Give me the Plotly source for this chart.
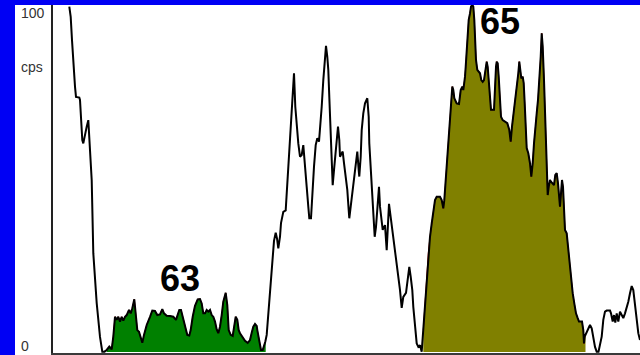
import numpy as np
import plotly.graph_objects as go

# Spectrum: counts per second against channel number
channel = [
    16.3, 17.7, 19.0, 20.3, 22.0, 23.0, 26.3, 27.0, 28.0, 29.3, 30.3, 32.0, 33.7, 35.3, 36.0, 37.0,
    38.0, 38.7, 39.2, 40.3, 43.7, 47.0, 49.3, 51.5,
    53.7, 56.3, 58.7, 60.3, 62.0, 63.7, 65.3, 67.0, 68.7, 70.3, 72.0, 73.7, 76.0, 77.7, 79.3, 81.3,
    83.0, 84.3, 86.0, 87.7, 89.3, 91.0, 93.7, 97.0, 99.3, 102.0, 104.3, 107.0, 109.3, 111.0, 113.7,
    117.0, 120.3, 123.0, 124.7, 126.3, 128.0, 130.3, 133.0, 134.3, 136.3, 137.7, 139.7, 142.0, 144.7,
    147.0, 148.7, 150.3, 152.0, 153.7, 155.3, 157.0, 158.7, 160.3, 162.0, 163.7, 165.3, 167.0, 168.7,
    170.3, 172.7, 174.3, 175.7, 177.7, 179.7, 181.3, 182.7, 184.3, 185.7, 187.0, 189.7, 192.0, 194.7,
    197.0, 198.7, 200.3, 202.0, 203.7, 204.3, 206.3, 208.0, 209.7, 211.0, 212.3, 213.7, 215.0, 217.0,
    219.0, 221.0, 222.7, 224.0, 225.3, 227.0, 228.0, 230.3, 232.7, 233.7, 235.3, 236.3, 237.7, 239.0,
    240.3, 241.0, 242.3, 243.7, 245.3, 247.0, 248.7, 250.3, 252.0, 253.7, 255.3, 256.3, 258.0, 259.3,
    261.0, 262.7, 264.3, 266.0, 267.0, 268.7, 270.3, 272.0, 273.0, 274.3, 275.3, 276.3, 277.7, 278.7,
    279.7, 281.0, 282.3, 283.7, 285.0, 286.3, 287.0, 288.7, 289.7, 291.0, 293.0, 294.3, 295.7, 296.3,
    297.7, 299.3, 301.0, 303.0, 304.3, 305.7, 306.3, 307.7, 308.7, 310.3, 312.0, 314.3, 315.7, 316.3,
    317.7, 319.0, 320.3, 321.7, 323.0, 324.3, 326.0, 327.0, 328.3, 329.7, 332.0, 333.7, 336.0, 337.7,
    340.3, 343.7, 347.0, 348.7, 350.3, 353.0, 355.3, 356.3, 357.7, 359.3, 360.3, 362.0, 363.7, 365.3,
    367.0, 368.7, 370.3, 372.0, 373.7, 375.3, 377.0, 378.7, 380.3, 382.0, 383.7, 387.0, 388.7, 390.3,
    391.3, 392.7, 393.7, 394.7, 396.0, 397.0, 398.3, 399.3, 400.3, 401.3, 403.7, 406.0, 407.7, 409.3,
    410.3, 411.3, 412.0, 412.7, 413.7, 414.7, 415.7, 417.0, 418.0, 419.3, 420.3, 421.3, 422.3, 423.0,
    424.3, 425.7, 427.0, 428.3, 429.7, 431.0, 432.3, 433.7, 434.7, 435.7, 437.0, 438.0, 441.0, 442.0,
    443.0, 443.7, 444.7, 445.7, 447.0, 448.0, 449.7, 452.0, 454.3, 456.3, 457.7, 459.0, 460.3, 462.0,
    463.7, 465.3, 466.3, 467.3, 468.3, 469.7, 470.7, 471.7, 472.7, 473.7, 475.3, 477.0, 478.3, 479.7,
    481.0, 482.3, 483.7, 485.0, 486.3, 487.7, 488.7, 489.7, 491.0, 492.0, 493.0, 493.7, 494.7, 495.7,
    497.0, 498.0, 499.3, 501.0, 502.3, 503.7, 505.0, 506.0, 507.0, 508.0, 509.0, 510.0, 511.0, 512.0,
    513.7, 514.7, 516.3, 518.0, 519.7, 521.3, 523.0, 524.7, 526.0, 527.7, 529.0, 530.3, 531.0, 531.7,
    533.7, 535.7, 537.0, 538.7, 540.3, 542.0, 543.7, 545.5, 548.7, 550.3, 552.0, 553.7, 557.0, 558.0,
    559.7, 561.0, 562.3, 563.7, 565.3, 567.0, 568.7, 570.3, 572.0, 573.7, 575.3, 577.0, 578.7, 580.3,
    582.0, 583.7, 585.3, 587.0,
]
cps = [
    101.0, 98.0, 91.2, 83.4, 77.6, 74.6, 74.4, 73.7, 68.8, 62.0, 61.0, 63.0, 65.9, 67.8, 64.0, 62.0,
    57.1, 50.3, 43.6, 28.9, 14.3, 4.4, 0.1, 0.1,
    0.6, 1.6, 0.8, 4.5, 10.3, 9.4, 10.3, 8.9, 10.3, 9.2, 10.3, 10.8, 12.3, 11.3, 12.8, 15.4,
    10.3, 6.4, 5.9, 4.5, 2.7, 5.0, 7.9, 10.3, 12.1, 12.0, 10.8, 11.0, 12.5, 11.3, 10.6,
    10.5, 10.3, 9.4, 10.8, 12.3, 12.3, 9.4, 6.9, 5.0, 4.8, 6.4, 10.3, 13.5, 15.4,
    15.5, 14.2, 11.3, 11.3, 12.3, 11.8, 12.3, 10.8, 10.3, 8.9, 6.6, 5.5, 7.4, 10.8,
    14.7, 17.3, 13.7, 6.4, 5.0, 4.7, 7.4, 10.3, 9.4, 6.4, 5.5, 4.3, 3.3, 2.7,
    3.5, 5.6, 7.4, 8.2, 7.6, 6.4, 2.7, 0.6, 0.6, 1.6, 3.0, 5.0, 9.5, 17.5,
    25.5, 32.5, 34.9, 33.2, 30.3, 33.7, 37.7, 41.0, 41.4, 46.4, 52.3, 58.1, 64.9, 70.8,
    76.6, 81.5, 71.7, 65.9, 61.0, 57.1, 57.6, 60.5, 55.2, 48.3, 42.5, 39.1, 39.1, 47.4,
    54.2, 60.5, 62.5, 61.5, 64.9, 71.7, 79.5, 86.3, 89.5, 86.3, 82.5, 74.6, 63.0, 55.2,
    48.8, 53.2, 58.1, 63.0, 65.9, 62.0, 57.1, 58.1, 58.6, 55.2, 51.3, 47.4, 41.5, 39.1,
    42.5, 46.4, 50.3, 55.2, 58.6, 53.2, 51.3, 57.1, 64.9, 69.8, 72.7, 74.2, 68.8, 61.0,
    53.2, 47.4, 39.6, 33.7, 36.6, 41.5, 48.3, 42.5, 38.6, 35.7, 37.1, 29.8, 43.3, 39.6,
    33.7, 25.9, 18.1, 12.9, 16.1, 17.3, 24.0, 24.9, 22.0, 18.1, 13.2, 7.4, 2.5, 1.5,
    2.0, 0.1, 6.4, 15.2, 22.0, 28.9, 33.7, 37.6, 41.5, 44.4, 45.4, 45.4, 44.4, 42.0,
    44.4, 50.3, 55.2, 60.0, 63.9, 69.8, 74.6, 77.6, 76.6, 74.2, 72.7, 72.5, 76.6, 77.6,
    76.6, 78.6, 80.5, 83.4, 88.3, 95.1, 97.1, 99.0, 101.0, 101.5, 101.0, 97.1, 91.2, 85.4,
    82.5, 82.0, 81.5, 79.5, 79.0, 79.5, 82.5, 84.9, 83.4, 79.5, 74.6, 70.8, 70.8, 78.6,
    83.4, 84.9, 84.4, 80.5, 73.7, 68.8, 67.8, 67.3, 66.9, 64.9, 61.5, 65.9, 68.8, 72.7,
    76.6, 81.5, 84.9, 81.5, 80.0, 80.5, 78.6, 72.7, 63.9, 59.6, 58.1, 55.2, 51.3, 55.2,
    61.0, 66.4, 69.8, 73.7, 78.6, 86.3, 93.2, 89.3, 79.5, 68.8, 60.0, 52.3, 45.9, 48.3,
    50.3, 49.8, 49.3, 48.8, 51.8, 52.3, 49.3, 46.4, 42.5, 46.4, 50.3, 48.3, 43.5, 35.7,
    34.7, 31.8, 25.9, 20.1, 17.2, 14.2, 11.3, 9.9, 8.9, 8.9, 8.9, 6.4, 2.5, 4.5,
    5.9, 7.4, 7.9, 6.9, 4.5, 1.5, 0.1, 0.1, 4.5, 9.4, 11.8, 12.1, 12.1, 11.3,
    8.9, 10.8, 8.6, 11.3, 8.9, 11.8, 10.8, 9.9, 11.3, 12.8, 14.7, 17.2, 19.3, 18.1,
    14.2, 9.4, 5.5, 3.5,
]

# Regions of interest (peak areas) and their labels
roi_labels = ["63", "65"]
roi_start = [53.7, 370.3]
roi_end = [212.7, 532.5]
roi_colors = ["#008000", "#808000"]
roi_label_channel = [126.5, 447.0]
roi_label_cps = [21.5, 96.6]

# Y axis annotations
axis_text = ["100", "cps", "0"]
axis_text_cps = [99.2, 83.3, 1.9]

W, H = 640, 355
ML, MT, MR, MB = 53, 5, 0, 2
PW, PH = W - ML - MR, H - MT - MB
BLUE = "#0000f4"

ch = np.array(channel)
ct = np.array(cps)

fig = go.Figure()

for lab, a, b, col in zip(roi_labels, roi_start, roi_end, roi_colors):
    inside = (ch > a) & (ch < b)
    xs = np.concatenate([[a], ch[inside], [b]])
    ys = np.concatenate([[np.interp(a, ch, ct)], ct[inside], [np.interp(b, ch, ct)]])
    fig.add_trace(go.Scatter(
        x=xs, y=ys, mode="lines", fill="tozeroy", fillcolor=col,
        line=dict(width=1, color="#c00000"), hoverinfo="skip", showlegend=False,
    ))

fig.add_trace(go.Scatter(
    x=channel, y=cps, mode="lines",
    line=dict(color="#000000", width=2), showlegend=False,
))

for lab, x, y in zip(roi_labels, roi_label_channel, roi_label_cps):
    fig.add_annotation(
        x=x, y=y, xref="x", yref="y", text=f"<b>{lab}</b>", showarrow=False,
        xanchor="center", yanchor="middle",
        font=dict(family="Liberation Sans, Arial, sans-serif", size=36, color="#000000"),
    )

for txt, y in zip(axis_text, axis_text_cps):
    fig.add_annotation(
        x=(19 - ML) / PW, y=y, xref="paper", yref="y", text=txt, showarrow=False,
        xanchor="left", yanchor="middle",
        font=dict(family="Liberation Sans, Arial, sans-serif", size=14, color="#333333"),
    )

# Blue frame along the left and top edges
fig.add_shape(type="rect", xref="paper", yref="paper",
              x0=-ML / PW, x1=(15 - ML) / PW, y0=-0.02, y1=1.03,
              fillcolor=BLUE, line=dict(width=0), layer="above")
fig.add_shape(type="rect", xref="paper", yref="paper",
              x0=-ML / PW, x1=1.01, y0=1.0, y1=1.03,
              fillcolor=BLUE, line=dict(width=0), layer="above")

fig.update_layout(
    width=W, height=H,
    margin=dict(l=ML, r=MR, t=MT, b=MB, pad=0),
    paper_bgcolor="#ffffff", plot_bgcolor="#ffffff",
    showlegend=False,
    xaxis=dict(range=[0, PW], showgrid=False, zeroline=False, showticklabels=False,
               ticks="", showline=True, linecolor="#3a3a3a", linewidth=2, fixedrange=True),
    yaxis=dict(range=[-(1) * 100 / 342, (352 - MT) * 100 / 342], showgrid=False,
               zeroline=False, showticklabels=False, ticks="", showline=True,
               linecolor="#222222", linewidth=1.5, fixedrange=True),
)

fig.write_html("out.html", config={"displayModeBar": False})
